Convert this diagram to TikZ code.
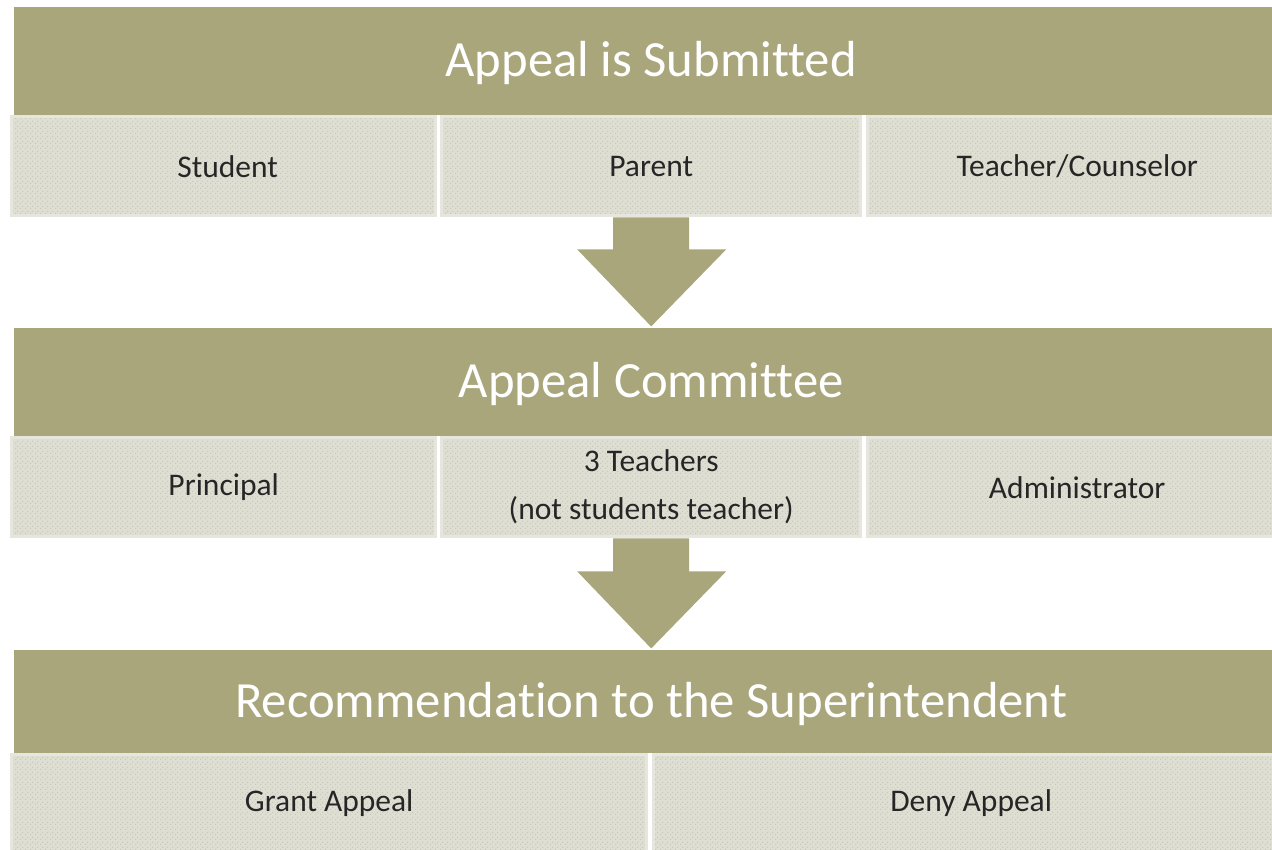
\documentclass[tikz,border=0pt]{standalone}
\usepackage{fontspec}
\setmainfont{Carlito}[Ligatures=NoCommon]
\usetikzlibrary{patterns}
\pgfdeclarepatternformonly{cdots}{\pgfqpoint{0pt}{0pt}}{\pgfqpoint{5pt}{5pt}}{\pgfqpoint{5pt}{5pt}}{%
  \pgfpathrectangle{\pgfqpoint{0pt}{0pt}}{\pgfqpoint{1.2pt}{1.2pt}}%
  \pgfpathrectangle{\pgfqpoint{2.5pt}{2.5pt}}{\pgfqpoint{1.2pt}{1.2pt}}%
  \pgfusepath{fill}}
\definecolor{olive}{RGB}{169,166,124}
\definecolor{cellborder}{RGB}{230,230,222}
\definecolor{cellbase}{RGB}{222,222,211}
\definecolor{celldot}{RGB}{200,200,186}
\definecolor{celltext}{RGB}{38,38,38}
\tikzset{
  hdr/.style={fill=olive, inner sep=0pt, anchor=north west, text=white,
    text height=41pt, text depth=10pt,
    font=\fontsize{50.7}{60}\selectfont},
  cell/.style={fill=cellborder, inner sep=0pt, anchor=north west, text=celltext,
    align=center, font=\fontsize{31.5}{48}\selectfont,
    path picture={
      \fill[cellbase] ([xshift=3pt,yshift=-3pt]path picture bounding box.north west) rectangle ([xshift=-3pt,yshift=3pt]path picture bounding box.south east);
      \fill[pattern=cdots, pattern color=celldot] ([xshift=3pt,yshift=-3pt]path picture bounding box.north west) rectangle ([xshift=-3pt,yshift=3pt]path picture bounding box.south east);
    }},
  bigarrow/.style={fill=olive}
}
\begin{document}
\begin{tikzpicture}[x=1pt,y=-1pt]
\useasboundingbox (0,0) rectangle (1272,849);
\clip (0,0) rectangle (1272,849);
% row 1
\node[hdr, minimum width=1274pt, minimum height=108pt] (h1) at (14,7) {Appeal is Submitted};
\node[cell, minimum width=427pt, minimum height=102pt] (c11) at (10,115) {\hspace*{8pt}Student};
\node[cell, minimum width=422pt, minimum height=102pt] (c12) at (440,115) {Parent};
\node[cell, minimum width=422pt, minimum height=102pt] (c13) at (866,115) {Teacher/Counselor};
% arrow 1
\fill[bigarrow] ([xshift=-38pt]c12.south) -- ++(76,0) -- ++(0,32) -- ++(37,0) -- ++(-75,77) -- ++(-74,-77) -- ++(36,0) -- cycle;
% row 2
\node[hdr, minimum width=1274pt, minimum height=108pt] (h2) at (14,328) {Appeal Committee};
\node[cell, minimum width=427pt, minimum height=102pt] (c21) at (10,436) {Principal};
\node[cell, minimum width=422pt, minimum height=102pt] (c22) at (440,436) {3 Teachers\\(not students teacher)};
\node[cell, minimum width=422pt, minimum height=102pt] (c23) at (866,436) {Administrator};
% arrow 2
\fill[bigarrow] ([xshift=-38pt]c22.south) -- ++(76,0) -- ++(0,33) -- ++(37,0) -- ++(-75,77) -- ++(-74,-77) -- ++(36,0) -- cycle;
% row 3
\node[hdr, minimum width=1274pt, minimum height=103pt] (h3) at (14,650) {Recommendation to the Superintendent};
\node[cell, minimum width=638pt, minimum height=100pt] (c31) at (10,753) {Grant Appeal};
\node[cell, minimum width=638pt, minimum height=100pt] (c32) at (652,753) {Deny Appeal};
\end{tikzpicture}
\end{document}
